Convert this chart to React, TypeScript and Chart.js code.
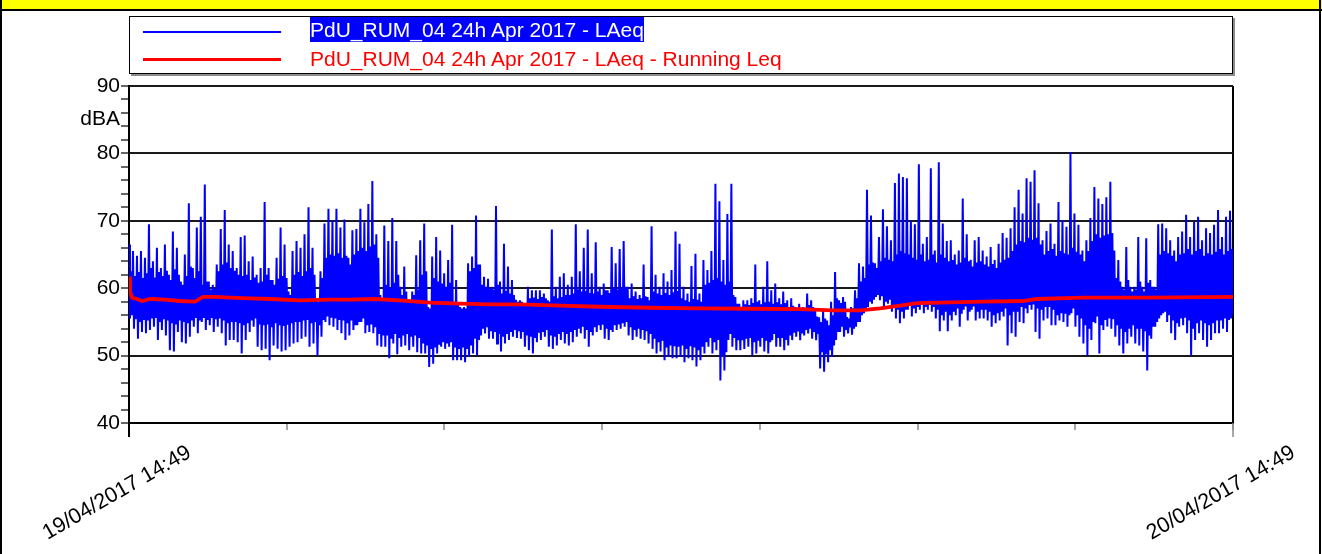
import React, { useEffect, useRef } from "react";
import { Chart, registerables } from "chart.js";

Chart.register(...registerables);

const FONT = '"Liberation Sans", Arial, sans-serif';

const seriesNames = [
  "PdU_RUM_04 24h Apr 2017 - LAeq",
  "PdU_RUM_04 24h Apr 2017 - LAeq - Running Leq",
];
const xTickLabels = ["19/04/2017 14:49", "", "", "", "", "", "", "20/04/2017 14:49"];
const yUnitLabel = "dBA";
const durationMinutes = 1440;
const yMin = 40;
const yMax = 90;

// LAeq per time slot: peak, dip, top and bottom of the dense core (dBA)
const laeqHigh = [
  66.5, 65.5, 64.8, 65.5, 64.5, 69.5, 64, 66, 63, 66.5,
  62, 68.4, 66, 61, 65, 72.6, 63, 69, 70.6, 75.4,
  61, 60.5, 63.5, 68.8, 71.6, 66.5, 65.5, 63, 67.6, 67.8,
  64, 64.7, 62, 63, 72.8, 63, 61.2, 64.5, 69, 66.5,
  59.5, 65.5, 67, 66, 68, 72, 66, 58.5, 62.5, 69.6,
  71.8, 70, 71.8, 69, 70.2, 64.5,
  68.6, 68.8, 71.8, 69.8, 72.5, 75.9, 68, 59, 69.3, 67,
  70.4, 67, 60.2, 63.2, 58.3, 59.5, 64.9, 67.1, 69.6, 57.2,
  64.7, 67.6, 65.6, 62.2, 64.2, 69.4, 61.2, 57.2, 57.2, 63.7,
  64.7, 70.8, 63.5, 61.7, 61.4, 60.2, 72.2, 61, 66.6, 63.2,
  61.2, 58.3, 58.2, 57.7, 60.2, 59.7, 59.7, 59.7, 59.2, 58.2,
  68.7, 60.2, 61.7, 62.2,
  60.5, 61.7, 69.5, 62.5, 66, 68.7, 62.2, 66.8, 60.2, 60.7,
  59.7, 66.1, 63.7, 65.8, 67, 60.2, 60.7, 59.5, 59, 63.5,
  58.7, 69.2, 62, 60.2, 62.2, 61, 62.7, 68.4, 66.6, 60.2,
  59.2, 63.3, 65.1, 59.2, 64.2, 62.7, 65.5, 75.5, 72.9, 64.2,
  71, 75.5, 58.7, 57.7, 58.2, 58.2, 58.5, 63.5, 58.2, 60.2,
  64, 59.7, 60.7, 58.5, 59.5,
  58.2, 58.5, 57.2, 57.7, 57.2, 59.2, 58.2, 56.8, 55.7, 56.8,
  55.2, 58, 62.4, 58.2, 58.7, 55.7, 57.2, 59.7, 63.7, 63.2,
  74.6, 70.8, 63.7, 67.6, 71.7, 69.2, 67.1, 75.6, 77, 76.5,
  76.3, 70, 69.5, 78.4, 66.6, 67.6, 77.8, 65.6, 78.7, 69.6,
  67, 67.1, 65, 65.6, 73.3, 68, 64.2, 67.1, 67.6, 65.6,
  64.7, 66.1, 64.2, 66.6, 68.2,
  67.5, 68.9, 72, 74.6, 71.1, 76.3, 75.8, 77.5, 72.6, 67.1,
  68.5, 69.6, 66.6, 72.8, 70.1, 69.1, 80.2, 71.1, 69.4, 65.6,
  67.1, 70.4, 75, 73.3, 72.5, 73.5, 75.8, 65.6, 64.2, 60.2,
  66.1, 60.2, 60.2, 67.6, 60.2, 67.4, 61.2, 60.2, 69.5, 69.6,
  68.9, 67.1, 65.6, 67.6, 68.4, 70.9, 67.6, 69.9, 70.6, 67.1,
  68.9, 68.2, 69.4, 71.6, 67.6, 70.6, 71.5,
];

const laeqLow = [
  55.5, 54, 52.5, 53.5, 53.3, 53.8, 54.3, 52.3, 53.8, 53,
  50.8, 50.6, 53.5, 52, 51.8, 52.8, 54.3, 53.3, 55, 53.8,
  54.5, 53.5, 54.3, 53.3, 51.5, 52.3, 52.3, 52, 50.3, 52.3,
  53.5, 54.3, 51.3, 50.8, 51, 49.3, 51.5, 51, 50.6, 50.8,
  51.3, 51.8, 52, 52.5, 52.8, 51.3, 51.8, 50, 52.8, 55,
  54.5, 54.3, 53.8, 53.3, 52.3, 53,
  53.8, 54.5, 55, 53.3, 53.5, 53.3, 51.5, 51.3, 51.3, 49.6,
  51.8, 50.2, 51.3, 51.5, 50.8, 51.3, 50.5, 50.3, 50.3, 48.3,
  48.8, 50.3, 51.3, 51, 51.3, 49.3, 49.3, 49.3, 49, 49.8,
  50.3, 50, 53, 53.3, 52.5, 52.5, 51.8, 50.6, 51.8, 52.3,
  52.8, 52.6, 52.5, 51.3, 50.8, 50.3, 52, 52.3, 52.8, 51.3,
  51, 51.5, 52.3, 51.8,
  51.5, 52, 52.8, 53.3, 52.5, 51.3, 53, 53.5, 53.8, 52.5,
  52.3, 53.5, 53.8, 54, 54.3, 53, 52.3, 52.8, 52.5, 52.3,
  51.8, 51, 50.3, 50.6, 49.3, 49.8, 49.6, 49.6, 49.8, 49,
  49.6, 49.3, 48.4, 49.3, 50.3, 51.3, 50.3, 50.8, 46.3, 47.8,
  52.3, 51.3, 50.8, 50.8, 51, 51.3, 50, 50.3, 51.3, 50.6,
  50.3, 52.3, 51.3, 51.3, 50.8,
  51.5, 52.3, 52.8, 52.3, 53, 53.3, 52.5, 52.3, 48.1, 47.6,
  49, 49.8, 52.3, 53.5, 52.8, 53.3, 53.1, 54.3, 55, 56.3,
  57.2, 57.7, 58.7, 58.2, 57.2, 57.7, 56.5, 55.5, 54.8, 55.5,
  56.8, 55.8, 56.3, 56.8, 56.3, 56.8, 56.5, 55.5, 53.6, 55.2,
  53.6, 55.2, 56, 54.3, 56.8, 55.2, 56.8, 55.2, 55.5, 55.5,
  55.2, 54.3, 54.8, 55.2, 55.8,
  51.5, 53.3, 52.8, 55, 54.8, 56.3, 56.8, 53.5, 52.5, 55.2,
  55.5, 54.5, 54.5, 55.2, 55, 54.3, 56.3, 54.3, 52.8, 51.8,
  50, 52.3, 54.8, 50.3, 53.8, 54.3, 54, 52.8, 51.5, 50.3,
  51.8, 52.8, 51.8, 51.5, 50.6, 47.8, 52.5, 54.3, 55.5, 56.3,
  55, 53.3, 52.3, 54.3, 54.5, 53.3, 50, 52.3, 53.3, 52.3,
  51.3, 52.3, 53.3, 53.3, 54, 53.5, 55.5,
];

const laeqCoreTop = [
  62.5, 61.8, 62.4, 61.5, 62.2, 63, 61.6, 62.4, 61.8, 62.6,
  61.2, 62.8, 62, 60.5, 61.8, 63.2, 61.5, 62.5,
  60.5, 61, 59.8, 60,
  62.5, 63.5, 63.8, 63, 62.6, 62,
  61.8, 62, 61.2, 61.6, 60.8, 61, 62, 61.2, 60.5, 61.4, 61.8, 61.5, 59,
  62, 62.4, 61.8, 62.5, 63, 62, 58,
  61.5, 64.5, 65, 64.8, 65.2, 64.5, 64.8, 63.5,
  65, 65.5, 66, 65.5, 66.2, 66.5, 64.5,
  58.5, 60.5, 60, 60.8,
  62,
  59, 59.5, 58, 59, 59.8,
  62, 62.5, 57, 61.5,
  61, 60.7, 60.2, 60.8,
  58, 57.5, 57,
  57, 62.5, 63, 63.5,
  60.5, 60.2, 60, 59.8, 60.5,
  59.2, 59.6, 59.2, 59,
  58, 58, 57.5, 58.5, 58.6, 58.4, 58.7, 58.5, 58, 58.8, 58.5, 58.7, 59,
  59, 59.2, 59.8, 59.5, 59.6, 59.3, 59.2, 59.5, 59,
  59.7, 59.3, 60, 59.8, 60, 60.2,
  58.5, 58.8, 58.4, 58.5, 58.8, 58.2,
  59.5, 59.2, 59, 59.3, 59, 59.4, 59.6,
  58.5, 58.2, 58, 58.4, 58.3, 58,
  60.5, 60.8, 61.2, 61.5, 61, 60.5, 61,
  59, 57.7, 57.2, 57.6, 57.5, 57.8, 58, 57.6, 57.9, 58, 57.7, 57.9, 57.6, 57.8,
  57.2, 57.4, 56.8, 57, 56.8, 57.5, 57.2,
  55.8, 55, 55.5, 54.5, 56,
  58.5, 57.8, 58, 55.5, 57, 58.5,
  61, 61.5,
  63.5, 63.8, 63, 64, 64.5, 64.2,
  64, 65, 65.5, 65.2, 65, 64.5, 64.2, 65, 64, 64.2,
  65, 63.8, 65, 64.5, 64, 64.2, 63.5, 63.8, 64.5, 64,
  63.2, 63.8, 64, 63.5, 63.2, 63.6, 63, 63.8, 64.2,
  64.5, 65.5, 66.5, 67, 66.8, 67.5, 67.2, 67.5, 66.5, 65, 65.5, 65.8,
  64.8, 65.5, 65.2, 65, 66, 65.4, 65,
  64, 65.5, 67, 68, 67.5, 67.8, 68, 68.2,
  61.5, 61, 59.8, 61.2, 59.5, 59.8, 61, 59.5, 60.8, 60.2, 59.8,
  65, 65.5, 65.2, 64.8, 64, 65, 65.2, 65.8, 65, 65.5,
  65.8, 64.8, 65.2, 65, 65.4, 65.8, 65, 65.5, 65.8,
];

const laeqCoreBottom = [
  56, 55.4, 55, 55.3, 55.2, 55.5, 55.6, 55, 55.4, 55.2,
  54.8, 54.6, 55.2, 55, 54.8, 55.2, 55.6, 55.2, 55.6, 55.3,
  55.6, 55.4, 55.5, 55.2, 54.8, 55, 55, 54.8, 54.5, 54.8,
  55.2, 55.5, 54.6, 54.5, 54.6, 54.2, 54.8, 54.5, 54.4, 54.6,
  54.8, 55, 55, 55.2, 55.3, 54.8, 55, 54.5, 55.3, 55.8,
  55.6, 55.5, 55.3, 55.2, 54.8, 55.2,
  54.5, 55, 55.5, 54.5, 54.6, 54.2, 53.2, 53, 53, 52.5,
  53.2, 52.6, 53, 53.2, 52.8, 53, 52.6,
  51.8, 51.5, 51, 51.2, 51.6, 52, 51.8, 52, 51.2, 51, 51.2, 51, 51.5,
  52.5, 52.3, 54, 54.2, 53.6, 53.5, 53.2, 52.8, 53.2, 53.5,
  53.8, 53.6, 53.5, 53, 52.8, 52.6, 53.4, 53.5, 53.8, 53,
  52.8, 53.2, 53.5, 53.2,
  53.5, 53.8, 54, 54.3, 53.8, 53.5, 54.2, 54.5, 54.6, 54,
  53.8, 54.5, 54.6, 54.8, 55, 54.2, 53.8, 54, 53.8, 53.6, 53.2,
  52.5, 52, 52.2, 51.2, 51.5, 51.4, 51.3, 51.5, 51, 51.4,
  51.2, 50.8, 51.3, 52, 52.6, 52, 52.3,
  50, 50.5, 53.2, 52.6, 52.3, 52.3, 52.5, 52.6, 52, 52.2,
  52.6, 52.2, 52, 53.2, 52.6, 52.6, 52.3,
  53, 53.4, 53.6, 53.3, 53.8, 54, 53.5,
  53.2, 50.5, 50.2, 50.8, 51.5,
  53.5, 54.3, 53.8, 54.2, 54, 55,
  56, 57,
  58, 58.3, 59, 58.8, 58, 58.3,
  57.2, 56.8, 56.5, 56.8, 57.5, 57, 57.2, 57.5, 57.2, 57.5,
  57.2, 56.8, 56, 56.5, 56, 56.5, 57, 56.2, 57.3, 56.5,
  57.3, 56.5, 56.8, 56.8, 56.5, 56, 56.3, 56.5, 57,
  56, 56.5, 56.5, 57.2, 57, 57.5, 57.6, 57, 56.8, 57.2, 57.2, 56.8,
  56, 56.3, 56.2, 56, 57, 56, 55.5,
  54.5, 54, 55, 55.8, 54.5, 55.3, 55.5, 55.4,
  54.5, 54, 53.5, 54, 54.5, 54, 54, 53.6, 53, 54.3, 55,
  56, 56.5, 56, 55.2, 54.8, 55.5, 55.6, 55.2, 54, 54.8,
  55.2, 54.8, 54.5, 54.8, 55.2, 55.2, 55.5, 55.3, 56,
];

// Running Leq (minutes since start, dBA)
const leqMinutes = [
  0, 1.3, 3.9, 10.4, 17, 27.4, 47, 66.5, 86.1, 96.5,
  112.2, 131.7, 157.8, 183.9, 223, 262.2, 288.3, 320.9, 353.5, 392.6,
  431.7, 470.9, 510, 562.2, 614.3, 679.6, 744.8, 810, 875.2, 918.3,
  953.5, 979.6, 1005.7, 1027.8, 1070.9, 1114, 1166.1, 1184.3, 1244.3, 1331.7,
  1440,
];
const leqValues = [
  61.7, 59.5, 58.6, 58.4, 58.1, 58.4, 58.3, 58.1, 58.0, 58.7,
  58.7, 58.6, 58.5, 58.4, 58.2, 58.3, 58.3, 58.4, 58.2, 57.85,
  57.7, 57.6, 57.6, 57.4, 57.25, 57.1, 57.0, 56.95, 56.9, 56.7,
  56.7, 57.0, 57.4, 57.8, 57.9, 58.0, 58.1, 58.4, 58.6, 58.6,
  58.7,
];

const decorPlugin = {
  id: "decor",
  afterDraw(chart: any) {
    const ctx = chart.ctx;
    const xs = chart.scales.x;
    const area = chart.chartArea;
    ctx.save();
    const ticks = xs.ticks;
    ticks.forEach((t: any, i: number) => {
      if (i !== 0 && i !== ticks.length - 1) return;
      const px = Math.round(xs.getPixelForValue(t.value));
      ctx.beginPath();
      ctx.strokeStyle = i === 0 ? "#000" : "#8a8a8a";
      ctx.lineWidth = i === 0 ? 2 : 1.5;
      ctx.moveTo(px, area.bottom);
      ctx.lineTo(px, area.bottom + 14);
      ctx.stroke();
    });
    ctx.font = "21.5px " + FONT;
    ctx.fillStyle = "#000";
    ctx.textAlign = "center";
    ctx.textBaseline = "middle";
    ticks.forEach((t: any, i: number) => {
      const lab = xTickLabels[i];
      if (!lab) return;
      const px = xs.getPixelForValue(t.value);
      ctx.save();
      ctx.translate(px - 12, area.bottom + 70);
      ctx.rotate((-30 * Math.PI) / 180);
      ctx.fillText(lab, 0, 0);
      ctx.restore();
    });
    ctx.restore();
  },
};

export default function App() {
  const canvasRef = useRef<HTMLCanvasElement | null>(null);

  useEffect(() => {
    const canvas = canvasRef.current;
    if (!canvas) return;
    const n = laeqHigh.length;
    const seq: number[] = [];
    for (let c = 0; c < n; c++) {
      seq.push(laeqHigh[c], laeqLow[c], laeqCoreTop[c], laeqCoreBottom[c]);
    }
    const pts = seq.map((v, k) => ({ x: (k * durationMinutes) / (seq.length - 1), y: v }));
    const leqPts = leqMinutes.map((m, i) => ({ x: m, y: leqValues[i] }));

    const chart = new Chart(canvas, {
      type: "line",
      data: {
        datasets: [
          {
            label: seriesNames[0],
            data: pts,
            borderColor: "#0000ff",
            borderWidth: 2,
            pointRadius: 0,
            tension: 0,
            order: 2,
          },
          {
            label: seriesNames[1],
            data: leqPts,
            borderColor: "#ff0000",
            borderWidth: 3.8,
            pointRadius: 0,
            tension: 0,
            order: 1,
          },
        ],
      },
      options: {
        animation: false,
        responsive: true,
        maintainAspectRatio: false,
        parsing: false as any,
        normalized: true,
        layout: { padding: { top: 86, right: 89, bottom: 0, left: 0 } },
        plugins: {
          legend: { display: false },
          tooltip: { enabled: false },
          title: { display: false },
        },
        scales: {
          x: {
            type: "linear",
            min: 0,
            max: durationMinutes,
            afterBuildTicks: (s: any) => {
              s.ticks = xTickLabels.map((_, i) => ({
                value: (i * durationMinutes) / (xTickLabels.length - 1),
              }));
            },
            afterFit: (s: any) => {
              s.height = 131;
            },
            ticks: { display: false, autoSkip: false },
            grid: {
              color: (c: any) => (c.index === xTickLabels.length - 1 ? "#000" : "rgba(0,0,0,0)"),
              lineWidth: 2,
              drawTicks: true,
              tickLength: 7,
              tickColor: "#8a8a8a",
              tickWidth: 1.5,
            },
            border: { display: true, color: "#000", width: 2 },
          },
          y: {
            type: "linear",
            min: yMin,
            max: yMax,
            afterBuildTicks: (s: any) => {
              const t: { value: number }[] = [];
              for (let v = yMin; v <= yMax; v += 2) t.push({ value: v });
              t.push({ value: 85 });
              t.sort((a, b) => a.value - b.value);
              s.ticks = t;
            },
            afterFit: (s: any) => {
              s.width = 129;
            },
            ticks: {
              autoSkip: false,
              padding: 1,
              color: "#000",
              font: { family: FONT, size: 21 },
              callback: (v: any) => (v % 10 === 0 ? String(v) : v === 85 ? yUnitLabel : ""),
            },
            grid: {
              color: (c: any) =>
                c.tick && c.tick.value % 10 === 0 && c.tick.value > yMin ? "#1a1a1a" : "rgba(0,0,0,0)",
              lineWidth: 2,
              drawTicks: true,
              tickLength: 8,
              tickColor: (c: any) => (c.tick && c.tick.value === 85 ? "rgba(0,0,0,0)" : "#333"),
              tickWidth: 1.5,
            },
            border: { display: true, color: "#000", width: 2 },
          },
        },
      },
      plugins: [decorPlugin],
    });
    return () => chart.destroy();
  }, []);

  const textStyle: React.CSSProperties = {
    position: "absolute",
    fontFamily: FONT,
    fontSize: 21,
    lineHeight: "25px",
    whiteSpace: "nowrap",
  };

  return (
    <div
      style={{
        position: "absolute",
        left: 0,
        top: 0,
        width: 1322,
        height: 554,
        background: "#fff",
        overflow: "hidden",
      }}
    >
      <div style={{ position: "absolute", left: 0, top: 0, width: 1322, height: 554 }}>
        <canvas ref={canvasRef} />
      </div>
      <div style={{ position: "absolute", left: 0, top: 0, width: 1322, height: 9, background: "#ffff00" }} />
      <div style={{ position: "absolute", left: 0, top: 9, width: 1322, height: 2, background: "#000" }} />
      <div style={{ position: "absolute", left: 0, top: 0, width: 2, height: 554, background: "#000" }} />
      <div style={{ position: "absolute", left: 1319, top: 0, width: 2, height: 554, background: "#000" }} />
      <div
        style={{
          position: "absolute",
          left: 129,
          top: 16,
          width: 1102,
          height: 56,
          border: "1px solid #000",
          background: "#fff",
          boxShadow: "2px 2px 0 #8c8c8c",
        }}
      />
      <div style={{ position: "absolute", left: 143, top: 31, width: 138, height: 2, background: "#0000ff" }} />
      <div style={{ ...textStyle, left: 310, top: 17, color: "#fff", background: "#0000ff" }}>{seriesNames[0]}</div>
      <div style={{ position: "absolute", left: 143, top: 58, width: 138, height: 3, background: "#ff0000" }} />
      <div style={{ ...textStyle, left: 310, top: 46, color: "#ff0000" }}>{seriesNames[1]}</div>
    </div>
  );
}
